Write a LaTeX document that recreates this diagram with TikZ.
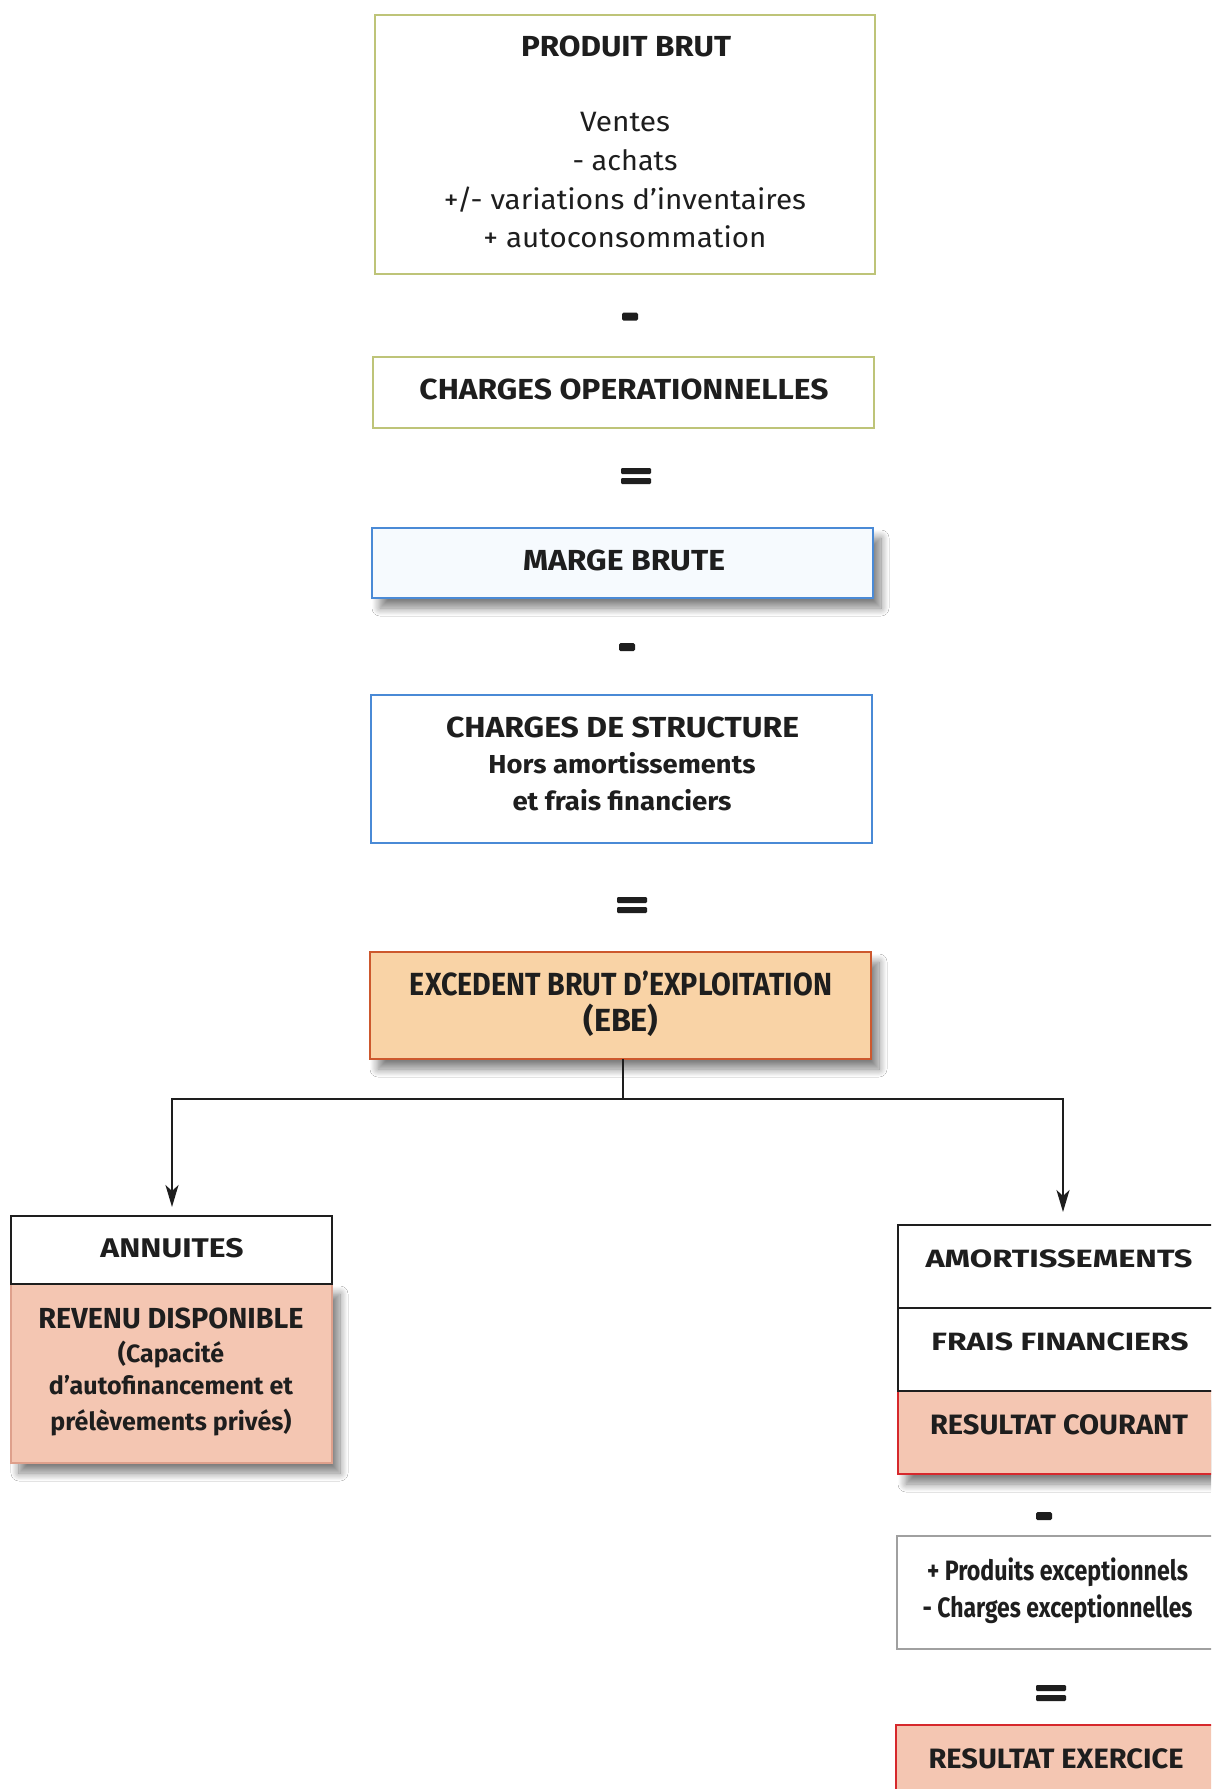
\documentclass[tikz,border=0pt]{standalone}
\usepackage{fontspec}
\setmainfont{Fira Sans}
\usepackage{graphicx}
\usetikzlibrary{arrows.meta,shadows.blur}
\definecolor{olive}{RGB}{190,196,120}
\definecolor{bluebd}{RGB}{74,138,214}
\definecolor{bluefill}{RGB}{246,250,254}
\definecolor{orbd}{RGB}{205,88,45}
\definecolor{orfill}{RGB}{249,211,166}
\definecolor{salfill}{RGB}{244,198,178}
\definecolor{salbd}{RGB}{222,160,140}
\definecolor{redbd}{RGB}{214,40,44}
\definecolor{graybd}{RGB}{160,160,160}
\definecolor{ink}{RGB}{30,30,30}
\newcommand\fw[2]{\resizebox{#1pt}{\height}{#2}}
\tikzset{
  box/.style={draw, line width=2.2pt, inner sep=0pt, outer sep=0pt},
  oliveb/.style={box, draw=olive, fill=white},
  blueb/.style={box, draw=bluebd, fill=white},
  orb/.style={box, draw=orbd, fill=orfill},
  blackb/.style={box, draw=ink, fill=white, line width=2.6pt},
  salb/.style={box, draw=salbd, fill=salfill},
  redb/.style={box, draw=redbd, fill=salfill},
  grayb/.style={box, draw=graybd, fill=white},
  shad/.style={blur shadow={shadow xshift=8pt, shadow yshift=-10pt, shadow blur radius=8pt, shadow opacity=50, shadow blur steps=12}},
  txt/.style={anchor=base, inner sep=0pt, text=ink},
  tb/.style={txt, font=\fontsize{29}{34}\selectfont\bfseries},
  tr/.style={txt, font=\fontsize{28}{34}\selectfont},
  ts/.style={txt, font=\fontsize{26}{30}\selectfont\bfseries},
  te/.style={txt, font=\fontsize{32}{36}\selectfont\bfseries},
  tc/.style={txt, font=\fontsize{25}{30}\selectfont\bfseries},
  opbar/.style={fill=ink, draw=none, rounded corners=1.5pt, inner sep=0pt, minimum width=16, minimum height=8},
  eqbar/.style={fill=ink, draw=none, rounded corners=1.2pt, inner sep=0pt, minimum width=30, minimum height=6},
  conn/.style={draw=ink, line width=2pt},
  arr/.style={conn, -{Stealth[length=22pt,width=13pt,inset=6pt]}},
}
\begin{document}
\begin{tikzpicture}[x=1pt,y=-1pt]
\clip (0,0) rectangle (1211,1789);
\fill[white] (0,0) rectangle (1211,1789);

% boxes
\node[oliveb, minimum width=500, minimum height=259] (pb) at (625,144.5) {};
\node[oliveb, minimum width=501, minimum height=71] (co) at (623.5,392.5) {};
\node[blueb, fill=bluefill, shad, minimum width=501, minimum height=70] (mb) at (622.5,563) {};
\node[blueb, minimum width=501, minimum height=148] (cs) at (621.5,769) {};
\node[orb, shad, minimum width=501, minimum height=107] (ebe) at (620.5,1005.5) {};
\node[salb, shad, minimum width=321, minimum height=179] (rd) at (171.5,1373.5) {};
\node[blackb, minimum width=321, minimum height=68] (ann) at (171.5,1250) {};
\node[redb, shad, minimum width=324, minimum height=83] (rc) at (1060,1432.5) {};
\node[blackb, minimum width=324, minimum height=83] (am) at (1060,1266.5) {};
\node[blackb, minimum width=324, minimum height=83] (ff) at (1060,1349.5) {};
\node[grayb, minimum width=325, minimum height=113] (pe) at (1059.5,1592.5) {};
\node[redb, minimum width=326, minimum height=80] (re) at (1059,1765) {};

% operators
\node[opbar] (op1) at (630,316.5) {};
\node[eqbar] (op2a) at (636,471) {};
\node[eqbar] (op2b) at (636,481) {};
\node[opbar] (op3) at (627,647) {};
\node[eqbar] (op4a) at (632,900) {};
\node[eqbar] (op4b) at (632,910) {};
\node[opbar] (op5) at (1044,1516) {};
\node[eqbar] (op6a) at (1051,1688) {};
\node[eqbar] (op6b) at (1051,1698) {};

% texts
\node[tb] (pbt) at (626,56) {\fw{210}{PRODUIT BRUT}};
\node[tr] (pb1) at (625,131) {\fw{90}{Ventes}};
\node[tr] (pb2) at (625,170) {\fw{105}{- achats}};
\node[tr] (pb3) at (625,209) {\fw{362}{+/- variations d’inventaires}};
\node[tr] (pb4) at (625,247) {\fw{283}{+ autoconsommation}};
\node[tb] (cot) at (624,399) {\fw{409}{CHARGES OPERATIONNELLES}};
\node[tb] (mbt) at (624,570) {\fw{202}{MARGE BRUTE}};
\node[tb] (cs1) at (622.5,737) {\fw{353}{CHARGES DE STRUCTURE}};
\node[ts] (cs2) at (622,773) {\fw{267}{Hors amortissements}};
\node[ts] (cs3) at (622,810) {\fw{219}{et frais financiers}};
\node[te] (ebe1) at (621,995) {\fw{422}{EXCEDENT BRUT D’EXPLOITATION}};
\node[te] (ebe2) at (621,1031) {\fw{75}{(EBE)}};
\node[tb, font=\fontsize{27}{32}\selectfont\bfseries] (annt) at (172,1257) {\fw{143}{ANNUITES}};
\node[te, font=\fontsize{29}{34}\selectfont\bfseries] (rd1) at (171,1328) {\fw{265}{REVENU DISPONIBLE}};
\node[tc] (rd2) at (171,1362) {\fw{106}{(Capacité}};
\node[tc] (rd3) at (171,1394) {\fw{244}{d’autofinancement et}};
\node[tc] (rd4) at (171,1430) {\fw{241}{prélèvements privés)}};
\node[tc] (amt) at (1059,1267) {\fw{267}{AMORTISSEMENTS}};
\node[tc] (fft) at (1060,1350) {\fw{257}{FRAIS FINANCIERS}};
\node[tb, font=\fontsize{28}{32}\selectfont\bfseries] (rct) at (1059,1434) {\fw{258}{RESULTAT COURANT}};
\node[tb, font=\fontsize{28}{32}\selectfont\bfseries] (pe1) at (1057.5,1580) {\fw{261}{+ Produits exceptionnels}};
\node[tb, font=\fontsize{28}{32}\selectfont\bfseries] (pe2) at (1057.5,1617) {\fw{270}{- Charges exceptionnelles}};
\node[tb, font=\fontsize{28}{32}\selectfont\bfseries] (ret) at (1056,1768) {\fw{255}{RESULTAT EXERCICE}};

% connectors
\coordinate (j) at (623,1099);
\coordinate (la) at (172,1207);
\coordinate (ra) at (1063,1212);
\draw[conn] (ebe.south -| j) -- (j);
\draw[arr] (j) -| (la);
\draw[arr] (j) -| (ra);
\end{tikzpicture}
\end{document}
